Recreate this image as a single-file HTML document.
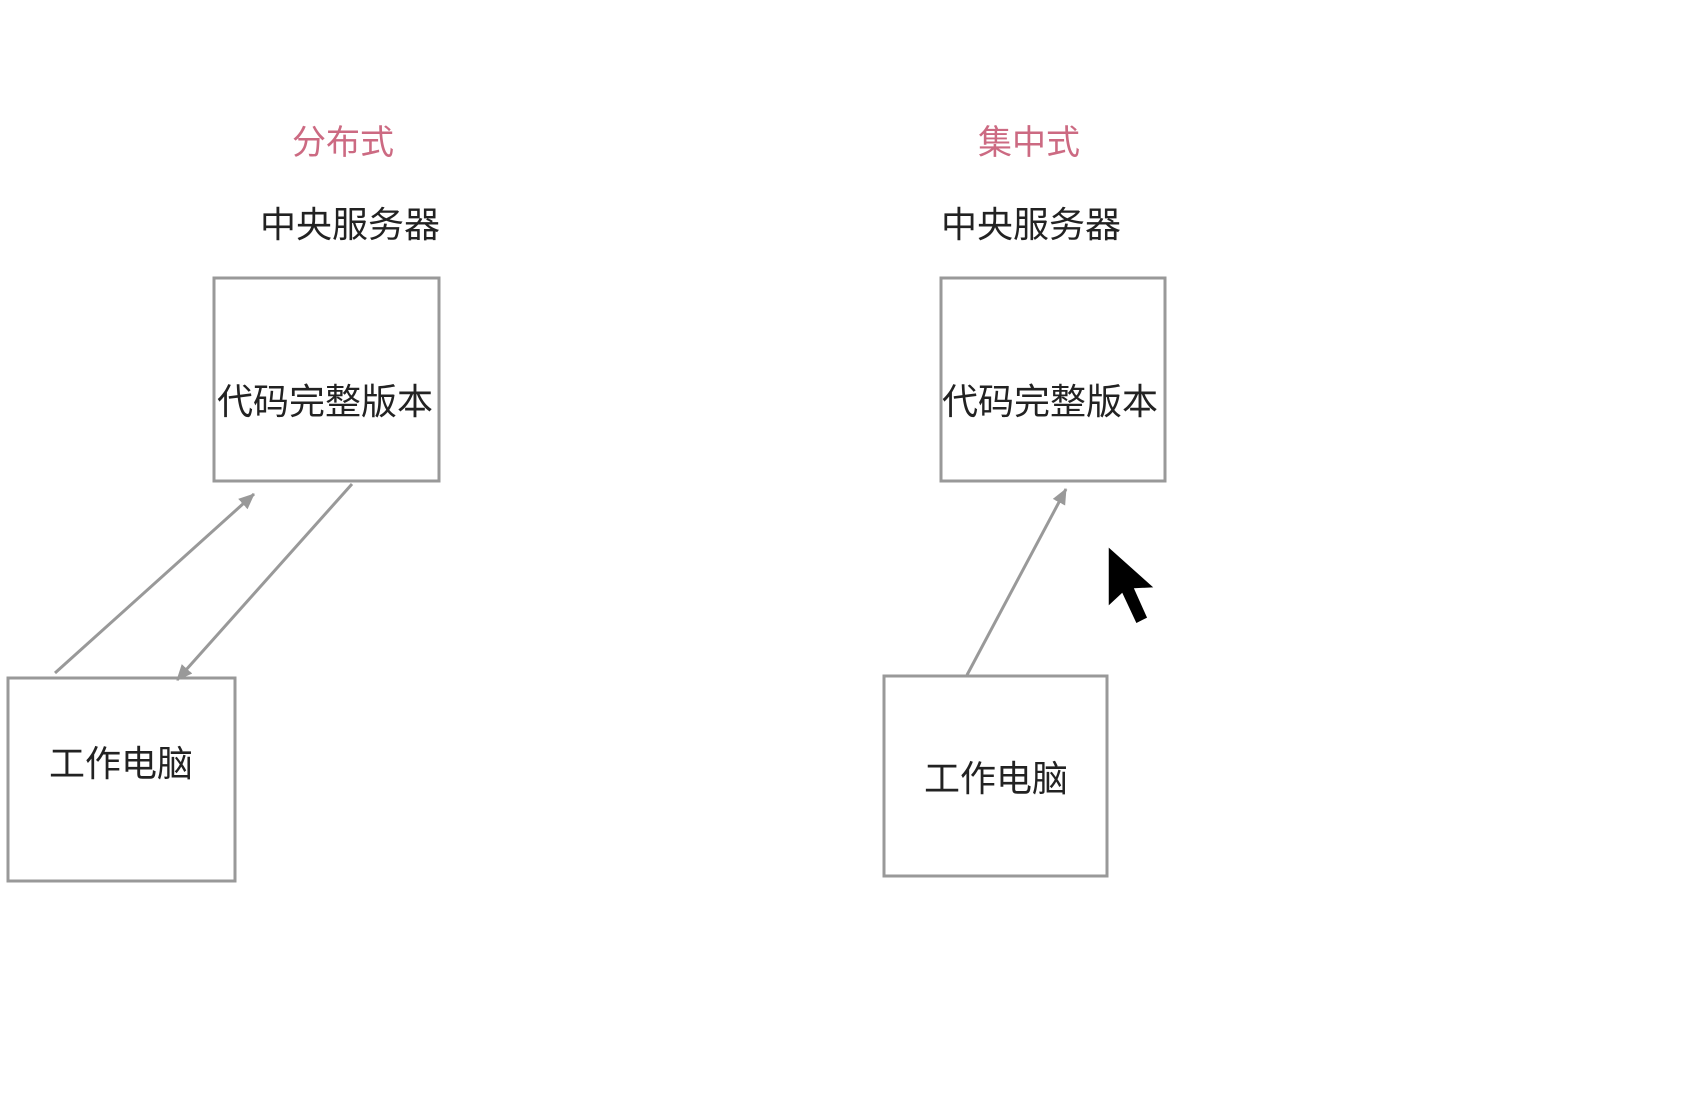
<!DOCTYPE html>
<html><head><meta charset="utf-8"><style>
html,body{margin:0;padding:0;background:#fff;width:1706px;height:1096px;overflow:hidden}
svg text{font-family:"Liberation Sans","Noto Sans CJK SC",sans-serif}
</style></head><body>
<svg width="1706" height="1096" xmlns="http://www.w3.org/2000/svg">
<defs>
<marker id="b" markerWidth="16" markerHeight="14" refX="15" refY="7" orient="auto" markerUnits="userSpaceOnUse" viewBox="0 0 16 14">
<path d="M0,0 L16,7 L0,14 z" fill="#999"/></marker>
</defs>
<g font-size="34" fill="#cc6a82" text-anchor="middle">
<text x="343" y="154">分布式</text>
<text x="1029" y="154">集中式</text>
</g>
<g font-size="36" fill="#222" text-anchor="middle">
<text x="350" y="237">中央服务器</text>
<text x="1031" y="237">中央服务器</text>
</g>
<g fill="none" stroke="#999" stroke-width="3">
<rect x="214" y="278" width="225" height="203"/>
<rect x="941" y="278" width="224" height="203"/>
<rect x="8" y="678" width="227" height="203"/>
<rect x="884" y="676" width="223" height="200"/>
</g>
<g stroke="#999" stroke-width="3" fill="none">
<line x1="55" y1="673" x2="254" y2="494" marker-end="url(#b)"/>
<line x1="352" y1="484" x2="177" y2="680" marker-end="url(#b)"/>
<line x1="967" y1="675" x2="1066" y2="489" marker-end="url(#b)"/>
</g>
<g font-size="36" fill="#222" text-anchor="middle">
<text x="325" y="414">代码完整版本</text>
<text x="1050" y="414">代码完整版本</text>
<text x="121" y="776">工作电脑</text>
<text x="996" y="791">工作电脑</text>
</g>
<path d="M1108,546 L1108,607 L1122,594 L1136,624 L1148,618 L1135,589 L1155,588 Z" fill="#000" stroke="#fff" stroke-width="1.5"/>
</svg>
</body></html>
